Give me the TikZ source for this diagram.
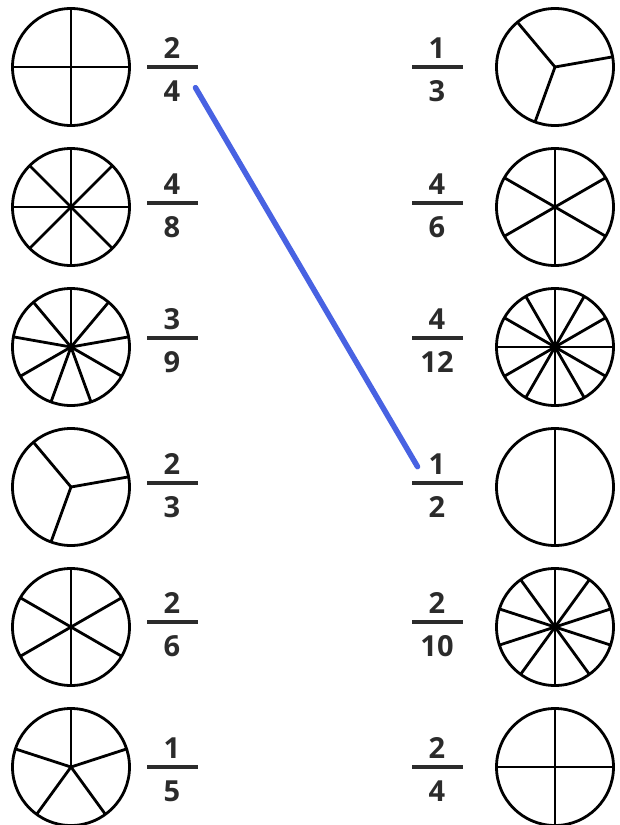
\documentclass[tikz,border=0pt]{standalone}
\usepackage{fontspec}
\setmainfont{Open Sans}
\usepackage{xcolor}
\usetikzlibrary{positioning}
\definecolor{ink}{HTML}{2B2B2B}
\definecolor{pen}{RGB}{72,98,226}

\begin{document}
\begin{tikzpicture}[
    x=1pt, y=-1pt,
    disc/.style={circle, draw, line width=2.8pt, minimum size=117pt, inner sep=0pt, outer sep=0pt},
    spoke/.style={line width=2.8pt},
    bar/.style={fill=ink, minimum width=51pt, minimum height=3.8pt, inner sep=0pt, outer sep=0pt},
    num/.style={font=\fontsize{29}{29}\selectfont\bfseries, text=ink, inner sep=0pt, anchor=base},
    match/.style={line width=5.5pt, pen, line cap=round}
]
\useasboundingbox (0,0) rectangle (619,825);

% left column: circle, then fraction
\foreach \i/\b/\n/\d/\sp in {1/67/2/4/{0,90,180,270},
                             2/203/4/8/{0,45,90,135,180,225,270,315},
                             3/338/3/9/{90,130,170,210,250,290,330,10,50},
                             4/483/2/3/{10,130,250},
                             5/622/2/6/{90,150,210,270,330,30},
                             6/767/1/5/{90,162,234,306,18}}{
  \node[disc] (lc\i) at (71, {67+140*(\i-1)}) {};
  \foreach \a in \sp \draw[spoke] (lc\i.center) -- (lc\i.\a);
  \node[bar] (lb\i) at (172, \b) {};
  \node[num] (ln\i) at (172, {\b-9}) {\n};
  \node[num] (ld\i) at (172, {\b+34}) {\d};
}

% right column: fraction, then circle
\foreach \i/\b/\n/\d/\sp in {1/67/1/3/{10,130,250},
                             2/203/4/6/{90,150,210,270,330,30},
                             3/338/4/12/{0,30,60,90,120,150,180,210,240,270,300,330},
                             4/483/1/2/{90,270},
                             5/622/2/10/{90,126,162,198,234,270,306,342,18,54},
                             6/767/2/4/{0,90,180,270}}{
  \node[disc] (rc\i) at (555, {67+140*(\i-1)}) {};
  \foreach \a in \sp \draw[spoke] (rc\i.center) -- (rc\i.\a);
  \node[bar] (rb\i) at (437, \b) {};
  \node[num] (rn\i) at (437, {\b-9}) {\n};
  \node[num] (rd\i) at (437, {\b+34}) {\d};
}

% the one match drawn in
\draw[match] ([xshift=15pt,yshift=3pt]ld1.east) -- ([xshift=-11pt,yshift=-3pt]rn4.west);

\end{tikzpicture}
\end{document}
